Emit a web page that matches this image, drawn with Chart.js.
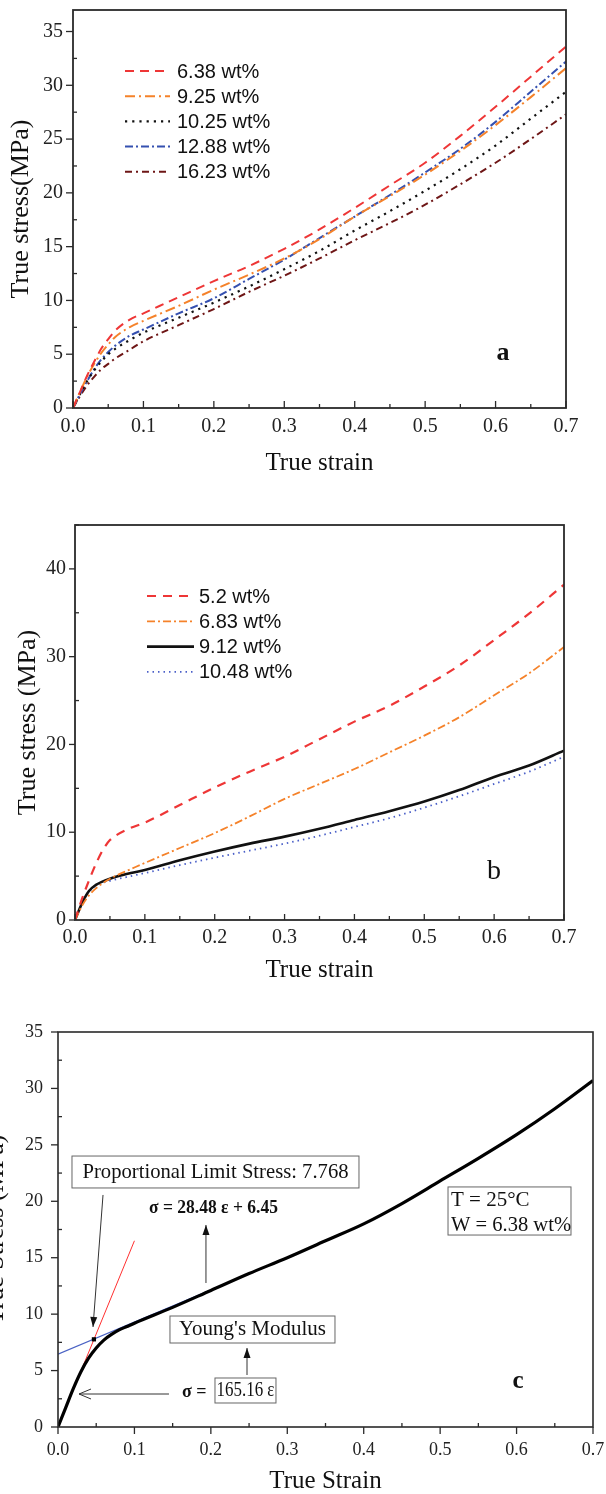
<!DOCTYPE html>
<html>
<head>
<meta charset="utf-8">
<script src="https://cdn.jsdelivr.net/npm/chart.js@4.4.0/dist/chart.umd.min.js"></script>
<style>
  html, body { margin: 0; padding: 0; background: #fff; overflow: hidden; width: 606px; height: 1494px; }
  .painel { position: absolute; }
</style>
</head>
<body>
<div class="painel" style="left:0;top:0"><canvas id="graficoA" width="606" height="490"></canvas></div>
<div class="painel" style="left:0;top:490px"><canvas id="graficoB" width="606" height="500"></canvas></div>
<div class="painel" style="left:-20px;top:990px"><canvas id="graficoC" width="626" height="504"></canvas></div>
<script>
// ---- Dados ----
// Painel a
const deformacaoA = [0, 0.01, 0.02, 0.03, 0.04, 0.05, 0.06, 0.08, 0.1, 0.15, 0.2, 0.25, 0.3, 0.35, 0.4, 0.45, 0.5, 0.55, 0.6, 0.65, 0.7];
const rotulosA = ['6.38 wt%', '9.25 wt%', '10.25 wt%', '12.88 wt%', '16.23 wt%'];
const tensaoA638 = [0, 1.5, 3.0, 4.3, 5.5, 6.4, 7.2, 8.2, 8.8, 10.3, 11.8, 13.2, 14.8, 16.6, 18.6, 20.7, 22.8, 25.3, 28.0, 30.8, 33.6];
const tensaoA925 = [0, 1.5, 2.9, 4.1, 5.1, 5.9, 6.6, 7.5, 8.1, 9.5, 11.0, 12.4, 13.9, 15.7, 17.8, 19.7, 21.7, 23.9, 26.3, 28.9, 31.6];
const tensaoA1025 = [0, 1.3, 2.5, 3.5, 4.3, 5.0, 5.5, 6.3, 7.0, 8.4, 9.8, 11.3, 12.9, 14.6, 16.5, 18.3, 20.2, 22.2, 24.4, 26.9, 29.4];
const tensaoA1288 = [0, 1.3, 2.5, 3.6, 4.5, 5.2, 5.8, 6.7, 7.3, 8.8, 10.2, 12.0, 13.8, 15.8, 17.8, 19.8, 21.9, 24.1, 26.6, 29.4, 32.2];
const tensaoA1623 = [0, 1.1, 2.1, 2.9, 3.6, 4.1, 4.6, 5.4, 6.2, 7.7, 9.2, 10.8, 12.3, 13.9, 15.6, 17.2, 18.9, 20.8, 22.8, 25.0, 27.3];

// Painel b
const deformacaoB = [0, 0.01, 0.02, 0.03, 0.04, 0.05, 0.06, 0.08, 0.1, 0.15, 0.2, 0.25, 0.3, 0.35, 0.4, 0.45, 0.5, 0.55, 0.6, 0.65, 0.7];
const rotulosB = ['5.2 wt%', '6.83 wt%', '9.12 wt%', '10.48 wt%'];
const tensaoB52 = [0, 2.4, 4.5, 6.4, 8.0, 9.1, 9.7, 10.5, 11.1, 13.1, 15.1, 16.9, 18.6, 20.6, 22.6, 24.4, 26.6, 29.0, 31.9, 34.9, 38.2];
const tensaoB683 = [0, 1.6, 2.8, 3.6, 4.2, 4.7, 5.1, 5.8, 6.5, 8.2, 9.9, 11.8, 13.8, 15.5, 17.2, 19.1, 21.0, 23.1, 25.6, 28.1, 31.1];
const tensaoB912 = [0, 1.9, 3.3, 4.0, 4.4, 4.7, 4.95, 5.35, 5.7, 6.8, 7.8, 8.7, 9.5, 10.4, 11.4, 12.4, 13.5, 14.8, 16.3, 17.6, 19.3];
const tensaoB1048 = [0, 1.8, 3.2, 3.9, 4.25, 4.45, 4.65, 5.0, 5.35, 6.25, 7.1, 7.9, 8.7, 9.6, 10.6, 11.6, 12.8, 14.1, 15.5, 16.9, 18.6];

// Painel c
const deformacaoC = [0, 0.01, 0.02, 0.03, 0.04, 0.05, 0.06, 0.07, 0.08, 0.09, 0.1, 0.15, 0.2, 0.25, 0.3, 0.35, 0.4, 0.45, 0.5, 0.55, 0.6, 0.65, 0.7];
const tensaoC = [0, 1.7, 3.4, 4.9, 6.1, 7.0, 7.7, 8.2, 8.6, 8.9, 9.2, 10.6, 12.1, 13.6, 15.0, 16.5, 18.0, 19.8, 21.8, 23.8, 25.9, 28.2, 30.7];
const ajusteElasticoX = [0, 0.1];      // σ = 165.16 ε
const ajusteElasticoY = [0, 16.5];
const ajustePlasticoX = [0, 0.3];      // σ = 28.48 ε + 6.45
const ajustePlasticoY = [6.45, 15.0];
const limiteProporcional = [0.047, 7.768];

// Ticks
const ticksX = [0, 0.1, 0.2, 0.3, 0.4, 0.5, 0.6, 0.7];

const SERIF = "'Liberation Serif', 'Times New Roman', serif";
const SANS = "'Liberation Sans', Arial, sans-serif";

Chart.defaults.font.family = SERIF;
Chart.defaults.color = '#222';

function pares(xs, ys) {
    return xs.map((x, i) => ({ x, y: ys[i] }));
}

// Moldura e marcas de escala (maiores e menores)
const molduraTicks = {
    id: 'molduraTicks',
    afterDatasetsDraw(chart, args, opts) {
        const { ctx, chartArea: a, scales } = chart;
        ctx.save();
        ctx.strokeStyle = '#2a2a2a';
        ctx.lineWidth = opts.largura || 1.6;
        ctx.strokeRect(a.left, a.top, a.right - a.left, a.bottom - a.top);
        ctx.lineWidth = 1.3;

        const marcar = (escala, passo, horizontal, dirMaior, dirMenor) => {
            const n = Math.floor((escala.max - escala.min) / (passo / 2) + 1e-6);
            for (let i = 0; i <= n; i++) {
                const v = escala.min + i * passo / 2;
                const maior = i % 2 === 0;
                const dir = maior ? dirMaior : dirMenor;
                const len = maior ? (opts.lenMaior || 7) : (opts.lenMenor || 4);
                const p = escala.getPixelForValue(v);
                ctx.beginPath();
                if (horizontal) {
                    ctx.moveTo(p, a.bottom);
                    ctx.lineTo(p, dir === 'in' ? a.bottom - len : a.bottom + len);
                } else {
                    ctx.moveTo(a.left, p);
                    ctx.lineTo(dir === 'in' ? a.left + len : a.left - len, p);
                }
                ctx.stroke();
            }
        };
        marcar(scales.x, 0.1, true, opts.xMaior, opts.xMenor);
        marcar(scales.y, opts.passoY, false, opts.yMaior, opts.yMenor);
        ctx.restore();
    }
};

// Legenda desenhada dentro da área do gráfico
const legendaInterna = {
    id: 'legendaInterna',
    afterDatasetsDraw(chart, args, opts) {
        if (!opts || opts.x0 === undefined) return;
        const ctx = chart.ctx;
        let y = opts.y0;
        chart.data.datasets.forEach(ds => {
            if (!ds.label) return;
            ctx.save();
            ctx.strokeStyle = ds.borderColor;
            ctx.lineWidth = ds.borderWidth;
            ctx.setLineDash(ds.borderDash || []);
            ctx.beginPath();
            ctx.moveTo(opts.x0, y);
            ctx.lineTo(opts.x1, y);
            ctx.stroke();
            ctx.setLineDash([]);
            ctx.fillStyle = '#111';
            ctx.font = opts.fonte;
            ctx.textBaseline = 'middle';
            ctx.fillText(ds.label, opts.xTexto, y + 1);
            ctx.restore();
            y += opts.dy;
        });
    }
};

// Textos, caixas e setas em coordenadas de dados
const anotacoes = {
    id: 'anotacoes',
    afterDatasetsDraw(chart, args, opts) {
        if (!opts || !opts.itens) return;
        const { ctx, scales } = chart;
        const px = v => scales.x.getPixelForValue(v);
        const py = v => scales.y.getPixelForValue(v);
        opts.itens.forEach(it => {
            ctx.save();
            if (it.tipo === 'caixa') {
                ctx.strokeStyle = '#666';
                ctx.lineWidth = 1;
                ctx.strokeRect(px(it.x1), py(it.y1), px(it.x2) - px(it.x1), py(it.y2) - py(it.y1));
            } else if (it.tipo === 'texto') {
                ctx.fillStyle = '#111';
                ctx.font = it.fonte;
                ctx.textAlign = it.alinhar || 'left';
                ctx.textBaseline = 'middle';
                if (it.maxLarg) ctx.fillText(it.texto, px(it.x), py(it.y), it.maxLarg);
                else ctx.fillText(it.texto, px(it.x), py(it.y));
            } else if (it.tipo === 'seta') {
                const x1 = px(it.x1), y1 = py(it.y1), x2 = px(it.x2), y2 = py(it.y2);
                ctx.strokeStyle = '#333';
                ctx.fillStyle = '#111';
                ctx.lineWidth = 1;
                ctx.beginPath();
                ctx.moveTo(x1, y1);
                ctx.lineTo(x2, y2);
                ctx.stroke();
                const ang = Math.atan2(y2 - y1, x2 - x1);
                const L = it.aberta ? 12 : 10;
                const W = it.aberta ? 5 : 3.5;
                const bx = x2 - L * Math.cos(ang), by = y2 - L * Math.sin(ang);
                const ox = -Math.sin(ang) * W, oy = Math.cos(ang) * W;
                ctx.beginPath();
                ctx.moveTo(bx + ox, by + oy);
                ctx.lineTo(x2, y2);
                ctx.lineTo(bx - ox, by - oy);
                if (it.aberta) {
                    ctx.stroke();
                } else {
                    ctx.closePath();
                    ctx.fill();
                }
            }
            ctx.restore();
        });
    }
};

Chart.register(molduraTicks, legendaInterna, anotacoes);

// Opções comuns das escalas
function escalas(cfg) {
    return {
        x: {
            type: 'linear',
            min: 0,
            max: 0.7,
            afterBuildTicks: e => { e.ticks = ticksX.map(v => ({ value: v })); },
            ticks: {
                callback: v => v.toFixed(1),
                font: { size: cfg.fonteTick },
                color: '#222',
                padding: cfg.padX,
                maxRotation: 0,
                autoSkip: false,
            },
            grid: { display: false, drawTicks: false },
            border: { display: false },
            title: {
                display: true,
                text: cfg.tituloX,
                font: { size: 25, lineHeight: cfg.lhTituloX || 1.2 },
                color: '#111',
                padding: { top: 0, bottom: cfg.padTituloX },
            },
            afterFit: e => {
                e.height = cfg.alturaX;
                e.paddingLeft = 0;
                e.paddingRight = 0;
            },
        },
        y: {
            type: 'linear',
            min: 0,
            max: cfg.maxY,
            ticks: {
                stepSize: cfg.passoY,
                includeBounds: false,
                font: { size: cfg.fonteTick },
                color: '#222',
                padding: cfg.padY,
            },
            grid: { display: false, drawTicks: false },
            border: { display: false },
            title: {
                display: true,
                text: cfg.tituloY,
                font: { size: 26 },
                color: '#111',
                padding: { top: cfg.padTituloY, bottom: 0 },
            },
            afterFit: e => {
                e.width = cfg.larguraY;
                e.paddingTop = 0;
                e.paddingBottom = 0;
            },
        },
    };
}

const linha = { pointRadius: 0, fill: false, cubicInterpolationMode: 'monotone' };

// ---- Painel a ----
new Chart(document.getElementById('graficoA'), {
    type: 'line',
    data: {
        datasets: [
            { ...linha, label: rotulosA[0], data: pares(deformacaoA, tensaoA638), borderColor: '#ee3636', borderWidth: 2, borderDash: [9, 6] },
            { ...linha, label: rotulosA[1], data: pares(deformacaoA, tensaoA925), borderColor: '#f5822a', borderWidth: 2, borderDash: [10, 4, 2, 4] },
            { ...linha, label: rotulosA[2], data: pares(deformacaoA, tensaoA1025), borderColor: '#111111', borderWidth: 2.2, borderDash: [2.2, 5] },
            { ...linha, label: rotulosA[3], data: pares(deformacaoA, tensaoA1288), borderColor: '#3550b0', borderWidth: 2, borderDash: [8, 3, 2, 3] },
            { ...linha, label: rotulosA[4], data: pares(deformacaoA, tensaoA1623), borderColor: '#6e1616', borderWidth: 2, borderDash: [7, 4, 2, 4] },
        ],
    },
    options: {
        responsive: false,
        animation: false,
        layout: { padding: { top: 10, right: 40, left: 0, bottom: 0 } },
        scales: escalas({ fonteTick: 20, padX: 7, padY: 10, tituloX: 'True strain', padTituloX: 12, alturaX: 82,
            maxY: 37, passoY: 5, tituloY: 'True stress(MPa)', padTituloY: 6, larguraY: 73 }),
        plugins: {
            legend: { display: false },
            tooltip: { enabled: false },
            molduraTicks: { passoY: 5, xMaior: 'in', xMenor: 'in', yMaior: 'out', yMenor: 'in', largura: 1.8 },
            legendaInterna: { x0: 125, x1: 170, xTexto: 177, y0: 71, dy: 25.2, fonte: '20px ' + SANS },
            anotacoes: { itens: [
                { tipo: 'texto', x: 0.6105, y: 5.08, texto: 'a', fonte: 'bold 26px ' + SERIF, alinhar: 'center' },
            ] },
        },
    },
});

// ---- Painel b ----
new Chart(document.getElementById('graficoB'), {
    type: 'line',
    data: {
        datasets: [
            { ...linha, label: rotulosB[0], data: pares(deformacaoB, tensaoB52), borderColor: '#ee3636', borderWidth: 2.2, borderDash: [9, 7] },
            { ...linha, label: rotulosB[1], data: pares(deformacaoB, tensaoB683), borderColor: '#f5822a', borderWidth: 1.8, borderDash: [8, 3, 2, 3] },
            { ...linha, label: rotulosB[2], data: pares(deformacaoB, tensaoB912), borderColor: '#111111', borderWidth: 2.6 },
            { ...linha, label: rotulosB[3], data: pares(deformacaoB, tensaoB1048), borderColor: '#4a5fc8', borderWidth: 1.8, borderDash: [1.5, 4] },
        ],
    },
    options: {
        responsive: false,
        animation: false,
        layout: { padding: { top: 35, right: 42, left: 0, bottom: 0 } },
        scales: escalas({ fonteTick: 20, padX: 6, padY: 9, tituloX: 'True strain', padTituloX: 5, alturaX: 70,
            maxY: 45, passoY: 10, tituloY: 'True stress (MPa)', padTituloY: 13, larguraY: 75 }),
        plugins: {
            legend: { display: false },
            tooltip: { enabled: false },
            molduraTicks: { passoY: 10, xMaior: 'in', xMenor: 'in', yMaior: 'out', yMenor: 'in', largura: 1.8, lenMaior: 6 },
            legendaInterna: { x0: 147, x1: 194, xTexto: 199, y0: 106, dy: 25.3, fonte: '20px ' + SANS },
            anotacoes: { itens: [
                { tipo: 'texto', x: 0.5998, y: 5.47, texto: 'b', fonte: '28px ' + SERIF, alinhar: 'center' },
            ] },
        },
    },
});

// ---- Painel c ----
new Chart(document.getElementById('graficoC'), {
    type: 'line',
    data: {
        datasets: [
            { data: [{ x: limiteProporcional[0], y: limiteProporcional[1] }], showLine: false, pointStyle: 'rect',
              pointRadius: 3, backgroundColor: '#000', borderColor: '#000', borderWidth: 0 },
            { ...linha, data: pares(deformacaoC, tensaoC), borderColor: '#000', borderWidth: 3.2 },
            { pointRadius: 0, fill: false, data: pares(ajustePlasticoX, ajustePlasticoY), borderColor: '#4a62c4', borderWidth: 1.2 },
            { pointRadius: 0, fill: false, data: pares(ajusteElasticoX, ajusteElasticoY), borderColor: '#ff3030', borderWidth: 1 },
        ],
    },
    options: {
        responsive: false,
        animation: false,
        layout: { padding: { top: 42, right: 13, left: 0, bottom: 0 } },
        scales: escalas({ fonteTick: 18, padX: 12, padY: 15, tituloX: 'True Strain', padTituloX: 0, lhTituloX: 1, alturaX: 67,
            maxY: 35, passoY: 5, tituloY: 'True Stress (MPa)', padTituloY: 1, larguraY: 78 }),
        plugins: {
            legend: { display: false },
            tooltip: { enabled: false },
            molduraTicks: { passoY: 5, xMaior: 'out', xMenor: 'in', yMaior: 'out', yMenor: 'in', largura: 1.6, lenMaior: 7 },
            anotacoes: { itens: [
                { tipo: 'caixa', x1: 0.0183, y1: 24.01, x2: 0.3938, y2: 21.18 },
                { tipo: 'texto', x: 0.2061, y: 22.55, texto: 'Proportional Limit Stress: 7.768', fonte: '21px ' + SERIF, alinhar: 'center', maxLarg: 266 },
                { tipo: 'seta', x1: 0.0589, y1: 20.56, x2: 0.0458, y2: 8.86 },
                { tipo: 'texto', x: 0.1191, y: 19.40, texto: 'σ = 28.48 ε + 6.45', fonte: 'bold 18px ' + SERIF, maxLarg: 129 },
                { tipo: 'seta', x1: 0.1936, y1: 12.76, x2: 0.1936, y2: 17.90 },
                { tipo: 'caixa', x1: 0.1465, y1: 9.835, x2: 0.3624, y2: 7.443 },
                { tipo: 'texto', x: 0.2545, y: 8.60, texto: "Young's Modulus", fonte: '21px ' + SERIF, alinhar: 'center', maxLarg: 160 },
                { tipo: 'seta', x1: 0.2473, y1: 4.607, x2: 0.2473, y2: 7.0 },
                { tipo: 'texto', x: 0.1622, y: 3.10, texto: 'σ =', fonte: 'bold 18px ' + SERIF },
                { tipo: 'caixa', x1: 0.2054, y1: 4.342, x2: 0.2852, y2: 2.127 },
                { tipo: 'texto', x: 0.2453, y: 3.18, texto: '165.16 ε', fonte: '20px ' + SERIF, alinhar: 'center', maxLarg: 58 },
                { tipo: 'seta', x1: 0.1452, y1: 2.924, x2: 0.0275, y2: 2.924, aberta: true },
                { tipo: 'caixa', x1: 0.5103, y1: 21.27, x2: 0.6712, y2: 17.01 },
                { tipo: 'texto', x: 0.5142, y: 20.11, texto: 'T = 25°C', fonte: '21px ' + SERIF },
                { tipo: 'texto', x: 0.5142, y: 17.90, texto: 'W = 6.38 wt%', fonte: '21px ' + SERIF, maxLarg: 120 },
                { tipo: 'texto', x: 0.6019, y: 3.99, texto: 'c', fonte: 'bold 25px ' + SERIF, alinhar: 'center' },
            ] },
        },
    },
});
</script>
</body>
</html>
